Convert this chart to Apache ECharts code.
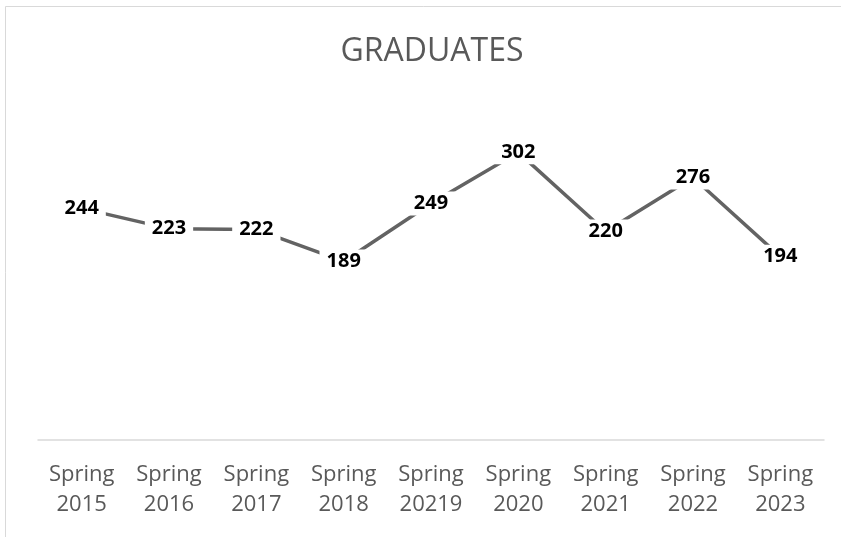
<!DOCTYPE html>
<html>
<head>
    <meta charset="utf-8">
    <title>GRADUATES</title>
    <script src="https://cdn.jsdelivr.net/npm/echarts@6/dist/echarts.min.js"></script>
    <style>
        html, body { margin: 0; padding: 0; background: #ffffff; }
        #chart { width: 841px; height: 537px; }
    </style>
</head>
<body>
<div id="chart"></div>
<script>
    var categories = ['Spring\n2015', 'Spring\n2016', 'Spring\n2017', 'Spring\n2018', 'Spring\n20219',
        'Spring\n2020', 'Spring\n2021', 'Spring\n2022', 'Spring\n2023'];
    var graduates = [244, 223, 222, 189, 249, 302, 220, 276, 194];

    var chart = echarts.init(document.getElementById('chart'));
    var option = {
        backgroundColor: '#ffffff',
        animation: false,
        graphic: [{
            type: 'rect',
            shape: {x: 5.5, y: 6.5, width: 900, height: 700},
            style: {fill: 'none', stroke: '#d9d9d9', lineWidth: 1},
            silent: true
        }],
        title: {
            text: 'GRADUATES',
            left: 427,
            textAlign: 'center',
            top: 31,
            textStyle: {
                fontFamily: 'Open Sans',
                fontWeight: 'normal',
                fontSize: 32,
                color: '#595959'
            }
        },
        grid: {left: 38, right: 17, top: 106, bottom: 93, containLabel: false},
        xAxis: {
            type: 'category',
            data: categories,
            offset: -4,
            axisLine: {lineStyle: {color: '#d9d9d9', width: 1.5}},
            axisTick: {show: false},
            axisLabel: {
                margin: 20,
                fontFamily: 'Open Sans',
                fontSize: 22,
                lineHeight: 30,
                color: '#595959',
                interval: 0
            }
        },
        yAxis: {
            type: 'value',
            min: 0,
            max: 350,
            show: false
        },
        series: [{
            type: 'line',
            data: graduates,
            symbol: 'circle',
            symbolSize: 1,
            itemStyle: {color: 'rgba(0,0,0,0)'},
            lineStyle: {color: '#636363', width: 3.5},
            label: {
                show: true,
                position: 'inside',
                fontFamily: 'Open Sans',
                fontWeight: 'bold',
                fontSize: 20,
                color: '#000000',
                backgroundColor: '#ffffff',
                padding: [2, 7]
            }
        }]
    };
    chart.setOption(option);
</script>
</body>
</html>
